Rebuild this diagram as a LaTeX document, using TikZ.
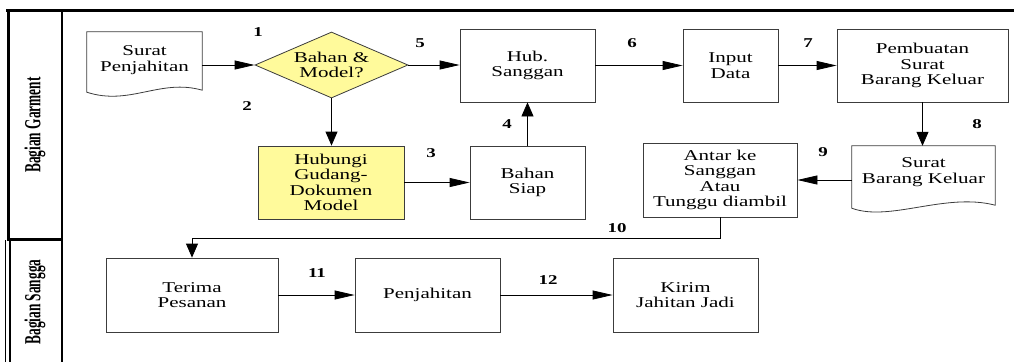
\documentclass[tikz,border=0pt]{standalone}
\usepackage{fontspec}
\setmainfont{Liberation Serif}[FakeStretch=1.4]
\newfontfamily\lajurfont{Liberation Serif}[FakeStretch=0.58]
\usepackage{xcolor}
\definecolor{kuningmuda}{RGB}{255,250,155}
\definecolor{garis}{RGB}{60,60,60}
\usepackage{tikz}
\usetikzlibrary{shapes.geometric,arrows.meta,calc}

\tikzset{
  teks/.style={font=\fontsize{15}{15.5}\selectfont},
  kotak/.style={teks,draw=garis,line width=0.8pt,rectangle,align=center,inner sep=2pt},
  kuning/.style={kotak,fill=kuningmuda},
  dok/.style={teks,rectangle,align=center,inner sep=2pt},
  dokgaris/.style={draw=garis,line width=0.8pt},
  keputusan/.style={teks,diamond,draw=garis,line width=0.8pt,fill=kuningmuda,aspect=2.3,inner sep=0pt,align=center},
  alur/.style={line width=0.8pt,-{Triangle[length=20pt,width=9pt]}},
  alurv/.style={line width=0.8pt,-{Triangle[length=14pt,width=12pt]}},
  nomor/.style={font=\fontsize{13.5}{13.5}\selectfont\bfseries,inner sep=0pt},
  lajur/.style={rotate=90,font=\lajurfont\fontsize{23}{23}\selectfont\bfseries,inner sep=0pt}
}

\begin{document}
\begin{tikzpicture}[x=1pt,y=-1pt]
  \useasboundingbox (0,0) rectangle (1014,362);
  % garis lajur
  \draw[line width=3pt] (6,10) -- (1014,10);
  \draw[line width=3pt] (8,10) -- (8,240);
  \draw[line width=2pt] (61.5,10) -- (61.5,240);
  \draw[line width=2.5pt] (7,239.5) -- (62,239.5);
  \draw[line width=2pt] (10,240) -- (10,362);
  \draw[line width=1pt] (5.5,240) -- (5.5,362);
  \draw[line width=1.5pt] (62,240) -- (62,362);
  \node[lajur] (garment) at (35,125) {Bagian Garment};
  \node[lajur] (sangga) at (35,302) {Bagian Sangga};

  % bagian garment
  \node[dok,minimum width=115pt,minimum height=56pt] (surat) at (144.5,60) {Surat\\Penjahitan};
  \draw[dokgaris] (surat.north west) -- (surat.north east) -- ([yshift=-2pt]surat.south east)
    .. controls +(-42,-12) and +(43,14) .. ([yshift=-4pt]surat.south west) -- cycle;
  \node[keputusan,minimum width=153pt,minimum height=66pt] (cek) at (331.5,65) {Bahan \&\\Model?};
  \node[kuning,minimum width=146pt,minimum height=73pt] (hubungi) at (331,182.5) {Hubungi\\Gudang-\\Dokumen\\Model};
  \node[kotak,minimum width=115pt,minimum height=73pt] (siap) at (527.5,182.5) {Bahan\\Siap};
  \node[kotak,minimum width=135pt,minimum height=73pt] (hubsang) at (527.5,65.5) {Hub.\\Sanggan};
  \node[kotak,minimum width=95pt,minimum height=73pt] (input) at (730.5,65.5) {Input\\Data};
  \node[kotak,minimum width=171pt,minimum height=73pt] (buat) at (922.5,65.5) {Pembuatan\\Surat\\Barang Keluar};
  \node[dok,minimum width=143pt,minimum height=52pt] (suratbk) at (923.5,172) {Surat\\Barang Keluar};
  \draw[dokgaris] (suratbk.north west) -- (suratbk.north east) -- ([yshift=-7pt]suratbk.south east)
    .. controls +(-50,-13) and +(38,14) .. ([yshift=-10pt]suratbk.south west) -- cycle;
  \node[kotak,minimum width=154pt,minimum height=74pt] (antar) at (720,180) {Antar ke\\Sanggan\\Atau\\Tunggu diambil};

  % bagian sangga
  \node[kotak,minimum width=172pt,minimum height=74pt] (terima) at (192,295) {Terima\\Pesanan};
  \node[kotak,minimum width=145pt,minimum height=74pt] (jahit) at (427.5,295) {Penjahitan};
  \node[kotak,minimum width=145pt,minimum height=74pt] (kirim) at (685.5,295) {Kirim\\Jahitan Jadi};

  % alur
  \draw[alur] (surat.east |- cek.west) -- (cek.west);
  \draw[alurv] (cek.south) -- (cek.south |- hubungi.north);
  \draw[alur] (hubungi.east) -- (hubungi.east -| siap.west);
  \draw[alurv] (siap.north) -- (hubsang.south);
  \draw[alur] (cek.east) -- (cek.east -| hubsang.west);
  \draw[alur] (hubsang.east) -- (input.west);
  \draw[alur] (input.east) -- (buat.west);
  \draw[alurv] (buat.south) -- (buat.south |- suratbk.north);
  \draw[alur] (antar.east -| suratbk.west) -- (antar.east);
  \draw[alurv] (antar.south) -- ++(0,21) -| (terima.north);
  \draw[alur] (terima.east) -- (jahit.west);
  \draw[alur] (jahit.east) -- (kirim.west);

  % nomor
  \node[nomor] (n1) at (258,32) {1};
  \node[nomor] (n2) at (247,106) {2};
  \node[nomor] (n3) at (431,153) {3};
  \node[nomor] (n4) at (507,124) {4};
  \node[nomor] (n5) at (420,43) {5};
  \node[nomor] (n6) at (632,43) {6};
  \node[nomor] (n7) at (808,43) {7};
  \node[nomor] (n8) at (977,124) {8};
  \node[nomor] (n9) at (823,152) {9};
  \node[nomor] (n10) at (617,228) {10};
  \node[nomor] (n11) at (317,273) {11};
  \node[nomor] (n12) at (548,280) {12};
\end{tikzpicture}
\end{document}
